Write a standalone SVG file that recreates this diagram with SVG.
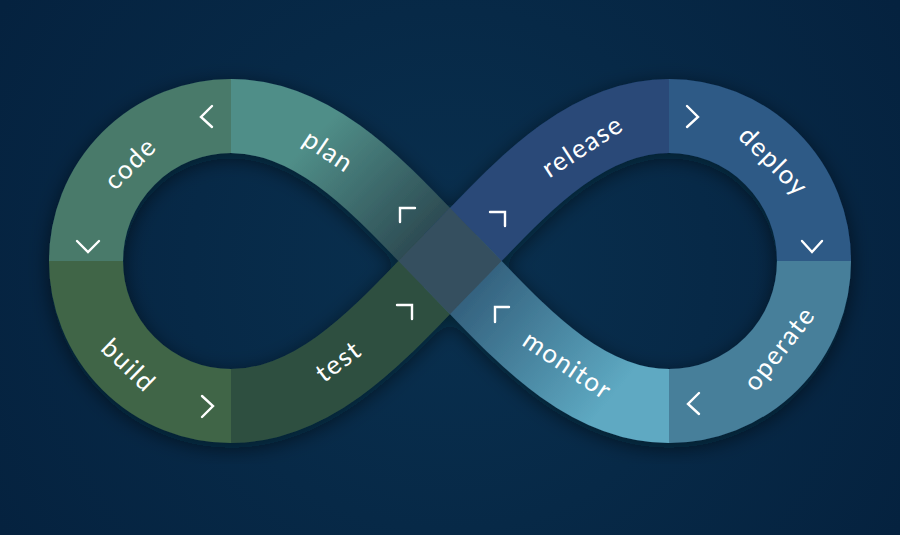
<svg xmlns="http://www.w3.org/2000/svg" width="900" height="535" viewBox="0 0 900 535">
<style>
.seg{fill:none;stroke-width:74;stroke-linecap:butt}
.lbl{font-family:Lato,"Open Sans","Liberation Sans",sans-serif;font-size:26px;fill:#ffffff;text-anchor:middle;letter-spacing:1.5px}
.chev{fill:none;stroke:#ffffff;stroke-width:2.4;stroke-linecap:round;stroke-linejoin:miter}
</style>
<defs>
<radialGradient id="bg" cx="450" cy="270" r="520" gradientUnits="userSpaceOnUse">
<stop offset="0" stop-color="#09304f"/>
<stop offset="1" stop-color="#05223f"/>
</radialGradient>
<linearGradient id="gPlan" gradientUnits="userSpaceOnUse" x1="320" y1="130" x2="430" y2="235">
<stop offset="0" stop-color="#508e88"/>
<stop offset="1" stop-color="#2c4a52"/>
</linearGradient>
<linearGradient id="gMon" gradientUnits="userSpaceOnUse" x1="470" y1="285" x2="610" y2="400">
<stop offset="0" stop-color="#33607d"/>
<stop offset="1" stop-color="#5ea9c2"/>
</linearGradient>
<filter id="sh" x="-20%" y="-20%" width="140%" height="140%">
<feDropShadow dx="0" dy="5" stdDeviation="10" flood-color="#000814" flood-opacity="0.55"/>
</filter>
<mask id="mDiag" maskUnits="userSpaceOnUse" x="0" y="0" width="900" height="535">
<path d="M 231,116 C 323,116 392,203 450,261 C 508,319 577,406 669,406" fill="none" stroke="#ffffff" stroke-width="74"/>
</mask>
</defs>
<rect x="0" y="0" width="900" height="535" fill="url(#bg)"/>
<g id="connectors" filter="url(#sh)">
<g id="code"><path class="seg" stroke="#487a6a" d="M 86,261 A 145,145 0 0 1 231,116"/></g>
<g id="plan"><path class="seg" stroke="url(#gPlan)" d="M 231,116 C 323,116 392,203 450,261"/></g>
<g id="build"><path class="seg" stroke="#3f6546" d="M 231,406 A 145,145 0 0 1 86,261"/></g>
<g id="test"><path class="seg" stroke="#2e5040" d="M 450,261 C 392,319 323,406 231,406"/></g>
<g id="release"><path class="seg" stroke="#294978" d="M 669,116 C 577,116 508,203 450,261"/></g>
<g id="deploy"><path class="seg" stroke="#2e5a86" d="M 814,261 A 145,145 0 0 0 669,116"/></g>
<g id="operate"><path class="seg" stroke="#477f9a" d="M 669,406 A 145,145 0 0 0 814,261"/></g>
<g id="monitor"><path class="seg" stroke="url(#gMon)" d="M 450,261 C 508,319 577,406 669,406"/></g>
<g id="crossing"><path class="seg" stroke="#354f5e" mask="url(#mDiag)" d="M 231,406 C 323,406 392,319 450,261 C 508,203 577,116 669,116"/></g>
</g>
<g id="labels">
<text class="lbl" transform="translate(131,164) rotate(-45)" dy="8">code</text>
<text class="lbl" transform="translate(328,152) rotate(34)" dy="8">plan</text>
<text class="lbl" transform="translate(583,147) rotate(-33)" dy="8">release</text>
<text class="lbl" transform="translate(773,162) rotate(45)" dy="8">deploy</text>
<text class="lbl" transform="translate(780,349) rotate(-52)" dy="8">operate</text>
<text class="lbl" transform="translate(567,366) rotate(34)" dy="8">monitor</text>
<text class="lbl" transform="translate(339,362) rotate(-37)" dy="8">test</text>
<text class="lbl" transform="translate(128,366) rotate(44)" dy="8">build</text>
</g>
<g id="arrows">
<polyline class="chev" points="212,106 201,117 212,127"/>
<polyline class="chev" points="77,241 88,252 99,241"/>
<polyline class="chev" points="202,396 213,406 202,417"/>
<polyline class="chev" points="400,222 400,208 415,208"/>
<polyline class="chev" points="397,305 412,305 412,319"/>
<polyline class="chev" points="490,212 505,212 505,226"/>
<polyline class="chev" points="495,322 495,307 509,307"/>
<polyline class="chev" points="687,106 698,117 687,127"/>
<polyline class="chev" points="802,241 812,252 822,241"/>
<polyline class="chev" points="699,393 688,404 699,414"/>
</g>
</svg>
